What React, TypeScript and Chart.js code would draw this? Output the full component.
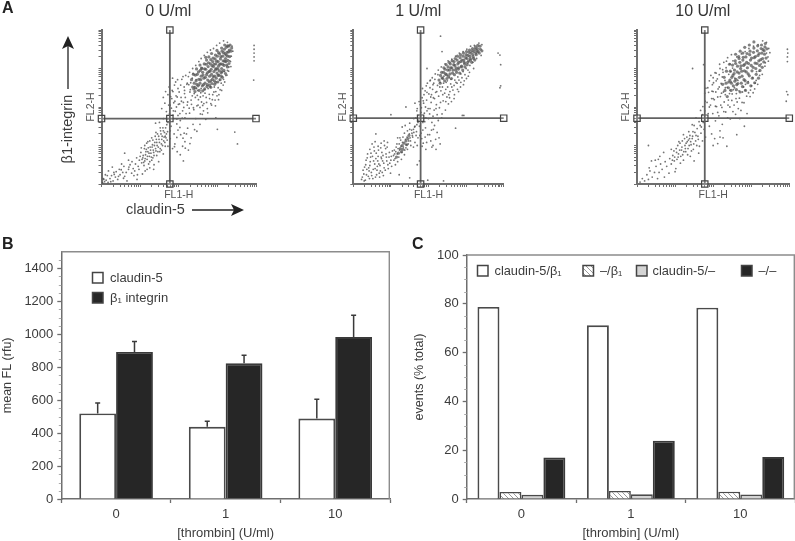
import React, { useEffect, useRef } from "react";
import { Chart, registerables } from "chart.js";

Chart.register(...registerables);

// ---------- Panel A data: flow-cytometry events in log-channel units (100 = one decade)
const panelTitles = ["0 U/ml", "1 U/ml", "10 U/ml"];
const gate0 = [177, 170];
const gate1 = [179, 171];
const gate10 = [178, 171];
const logTickOffsets = [0, 30, 48, 60, 70, 78, 85, 90, 95];

const core0 = [[252,272],[258,280],[255,262],[262,290],[265,275],[268,262],[270,298],[272,284],[275,270],[276,305],[278,292],[280,280],[282,312],[284,298],[285,285],[287,272],[288,318],[290,305],[291,292],[293,280],[294,325],[296,312],[297,300],[299,288],[300,332],[302,318],[303,306],[305,294],[306,338],[308,325],[309,312],[311,300],[312,345],[314,332],[315,320],[317,308],[318,350],[320,338],[321,326],[323,355],[325,342],[327,332],[329,358],[331,348],[260,300],[266,312],[272,322],[278,330],[245,268],[248,285],[256,295],[264,258],[274,258],[283,268],[292,268],[302,282],[312,292],[322,318],[240,262],[236,252],[243,250],[250,255],
[239,247],[243,283],[247,259],[251,291],[253,243],[257,271],[259,301],[261,255],[263,283],[267,247],[267,299],[269,277],[271,311],[273,253],[274,289],[277,315],[279,265],[281,293],[283,251],[283,323],[286,307],[286,261],[289,279],[289,327],[291,311],[293,259],[295,297],[295,335],[297,275],[298,319],[301,265],[301,299],[303,341],[304,283],[306,311],[307,271],[309,331],[310,289],[311,353],[313,277],[314,311],[316,341],[317,295],[319,361],[319,319],[321,287],[323,335],[324,309],[326,359],[327,321],[329,343],[330,313],[332,331],[333,361],[335,345],[337,353],[299,347],[285,339],[270,329],[255,309],[246,299],[238,285],[233,271],[242,240],[262,242],[280,256],[296,264],[310,280],[326,304]];
const cloud0 = [[3,3],[8,6],[5,14],[12,10],[17,4],[22,14],[10,24],[26,22],[30,8],[36,18],[42,12],[32,30],[18,34],[38,32],[48,24],[46,38],[28,44],[55,30],[60,20],[58,46],[52,52],[70,38],[66,8],[74,50],[78,28],[84,22],[82,40],[92,12],[88,52],[95,46],[98,62],[100,72],[104,55],[102,82],[107,68],[110,48],[112,60],[114,76],[116,90],[118,64],[120,84],[122,52],[124,72],[126,96],[128,80],[130,62],[132,102],[134,88],[136,74],[138,108],[140,92],[142,116],[144,100],[146,84],[148,124],[150,108],[152,92],[154,130],[156,116],[158,100],[160,138],[162,122],[164,108],[166,146],[168,130],[170,114],[125,42],[136,50],[148,58],[120,110],[130,120],[112,100],[141,134],[152,146],[135,38],[160,78],[172,98],[178,118],[184,92],[190,104],[196,84],[204,76],[210,98],[216,110],[225,88],[232,120],[205,128],[188,130],[198,140],[214,132],[178,138],[150,160],[140,158],[160,170],[172,160],[180,150],[176,182],[168,188],[156,196],[164,210],[178,205],[186,190],[182,222],[172,232],[166,240],[160,225],[175,252],[185,240],[190,215],[194,200],[198,178],[204,165],[210,190],[216,172],[222,205],[228,184],[232,218],[238,198],[244,170],[250,205],[256,226],[248,230],[240,235],[230,245],[222,262],[215,235],[206,225],[198,248],[192,265],[184,275],[208,272],[218,282],[228,290],[236,300],[244,308],[252,318],[258,326],[266,334],[274,342],[282,348],[290,352],[298,360],[306,366],[316,372],[326,368],[338,358],[340,345],[336,332],[334,318],[330,304],[326,295],[322,282],[316,272],[310,262],[302,250],[296,240],[288,232],[280,222],[272,212],[262,204],[256,182],[264,190],[274,196],[285,205],[294,218],[304,232],[268,236],[276,248],[258,248],[246,248],[235,275],[226,258],[214,252],[202,208],[212,212],[196,226],[282,252],[292,252],[306,270],[318,292],[332,320],[296,172],[345,135],[300,142],[352,104],[220,130],[118,38],[70,62],[212,60],[395,360],[395,350],[395,340],[395,330],[395,320],[394,270],[270,168],[60,80],[195,156],
[108,74],[111,92],[113,66],[115,84],[117,106],[119,72],[121,94],[123,80],[125,112],[127,88],[129,70],[131,96],[133,114],[135,82],[137,100],[139,124],[141,86],[143,108],[145,130],[147,96],[149,116],[151,84],[153,138],[155,104],[157,124],[159,146],[161,112],[163,134],[165,98],[167,120],[169,154],[171,136],[105,64],[103,94],[109,56],[125,58],[133,68],[143,74],[155,88],[165,124],
[171,169],[174,205],[177,163],[179,227],[181,197],[183,243],[185,179],[187,211],[189,257],[191,189],[193,229],[195,169],[197,271],[199,207],[201,239],[203,183],[205,257],[207,215],[209,171],[211,279],[213,199],[215,243],[217,225],[219,183],[221,259],[223,213],[225,279],[227,197],[229,239],[231,263],[233,207],[235,229],[237,287],[239,193],[241,253],[243,225],[245,271],[247,203],[249,243],[251,219],[253,257],[255,199],[257,237],[259,213],[261,181],[263,229],[265,209],[267,245],[271,225],[275,185],[279,233],[283,209],[287,219],[291,239],[295,203],[299,229],[303,219],[307,245],[311,243],[315,257],[319,265],[325,283],[329,293],[335,305],[223,145],[237,155],[247,137],[255,155],[229,105],[241,141],[203,147],[195,121],[189,97],[211,119],[217,93],
[6,12],[15,22],[24,6],[33,25],[44,20],[51,37],[57,15],[64,30],[71,44],[79,58],[86,34],[91,68],[97,38],[93,24],[106,26],[113,34]];
const core1 = [[240,290],[244,298],[248,284],[252,304],[256,296],[258,312],[262,302],[264,288],[268,318],[270,308],[272,296],[276,322],[278,312],[280,302],[284,328],[286,318],[288,306],[292,332],[294,322],[296,312],[300,336],[302,326],[304,316],[308,342],[310,332],[312,322],[316,346],[318,336],[320,326],[324,350],[326,340],[330,352],[332,344],[338,350],[125,92],[130,100],[135,106],[128,84],[140,112],[145,118],[120,80],[115,70],[132,90],[142,102],[148,126],[236,276],[232,282],[228,270],
[231,262],[235,290],[238,274],[241,302],[243,268],[245,286],[247,310],[249,274],[251,296],[253,280],[255,316],[257,286],[259,302],[261,274],[263,320],[265,296],[267,310],[269,284],[271,326],[273,302],[275,290],[277,332],[279,298],[281,316],[283,288],[285,336],[287,304],[289,322],[291,296],[293,340],[295,316],[297,304],[299,328],[301,344],[303,310],[305,334],[307,320],[309,348],[311,326],[313,340],[315,316],[317,352],[319,330],[321,344],[323,322],[325,356],[327,336],[329,346],[331,360],[335,340],[337,358],[342,346]];
const cloud1 = [[22,12],[28,26],[32,10],[36,38],[40,20],[44,48],[48,30],[52,14],[54,60],[58,40],[62,24],[66,72],[68,52],[72,34],[76,82],[78,60],[82,42],[86,92],[88,70],[92,50],[30,44],[34,62],[38,78],[44,90],[50,104],[58,110],[66,98],[74,106],[82,112],[90,96],[96,82],[100,62],[46,70],[56,86],[64,46],[70,18],[80,22],[42,34],[60,66],[74,70],[102,46],[108,62],[112,50],[118,58],[104,86],[110,78],[114,96],[122,104],[126,114],[118,120],[132,122],[136,132],[140,94],[146,104],[152,112],[156,132],[150,142],[144,138],[160,142],[158,122],[164,150],[168,136],[172,120],[164,108],[160,96],[172,160],[176,150],[150,158],[138,152],[130,148],[180,132],[182,118],[186,106],[170,100],[192,146],[198,128],[206,112],[212,100],[220,90],[228,120],[208,140],[216,152],[190,162],[200,170],[172,178],[180,186],[170,196],[178,206],[164,210],[186,216],[192,200],[196,190],[204,196],[212,176],[220,196],[226,165],[236,182],[232,212],[216,222],[206,226],[196,238],[188,232],[184,248],[194,255],[204,250],[212,258],[222,240],[230,252],[238,232],[246,214],[254,232],[262,252],[270,270],[278,278],[286,286],[292,292],[300,300],[310,308],[318,316],[328,326],[340,334],[342,362],[334,366],[322,360],[312,358],[302,350],[292,344],[282,340],[272,332],[262,324],[252,320],[244,312],[234,304],[226,296],[218,286],[210,276],[204,268],[214,262],[224,256],[240,262],[250,268],[260,272],[268,256],[276,262],[286,264],[246,246],[256,224],[268,222],[280,240],[295,268],[306,280],[320,300],[294,178],[290,178],[272,145],[385,340],[390,335],[392,310],[392,255],[390,250],[232,384],[208,232],[140,200],[60,130],[100,180],[122,24],[198,10],[240,8],[150,16],[170,50],[176,60],[236,344],[196,300],
[107,74],[111,66],[113,84],[117,78],[119,92],[121,70],[123,88],[127,98],[129,82],[131,108],[133,96],[137,88],[139,116],[141,102],[143,122],[147,112],[149,130],[151,120],[153,100],[155,140],[157,126],[161,134],[163,148],[167,126],[169,154],[116,104],[124,120],[109,88],[101,72],[136,76],[128,64],[144,90],
[24,18],[26,36],[29,8],[33,50],[35,24],[37,68],[41,42],[43,14],[45,58],[47,80],[49,22],[51,72],[53,38],[55,96],[57,52],[59,18],[61,80],[63,36],[65,60],[67,88],[69,28],[71,48],[73,94],[75,66],[77,30],[79,74],[81,54],[83,100],[85,36],[87,78],[89,60],[91,108],[93,40],[95,70],[97,54],[99,28],
[166,172],[169,190],[173,166],[175,214],[179,176],[181,198],[183,224],[185,160],[187,210],[189,184],[191,242],[193,172],[195,218],[197,262],[199,196],[201,234],[203,182],[205,270],[207,212],[209,160],[211,246],[213,224],[215,192],[217,272],[219,238],[221,206],[223,180],[225,284],[227,228],[229,198],[231,264],[233,242],[235,172],[237,252],[239,216],[241,280],[243,236],[245,192],[247,264],[249,226],[251,252],[253,208],[255,276],[257,240],[259,260],[261,214],[265,244],[269,232],[273,264],[277,246],[281,270],[285,252],[289,276],[293,258],[297,284],[301,274],[305,296],[309,290],
[185,140],[191,122],[195,108],[203,128],[209,96],[213,142],[219,116],[223,134],[231,104],[183,98],[193,90],[177,126],[161,170]];
const core10 = [[252,282],[256,296],[260,272],[264,306],[268,288],[270,316],[272,300],[276,280],[278,322],[280,308],[282,294],[286,330],[288,316],[290,302],[292,286],[296,336],[298,322],[300,308],[302,294],[306,342],[308,328],[310,314],[312,300],[316,346],[318,334],[320,320],[322,308],[326,352],[328,340],[330,326],[334,346],[336,356],[262,258],[274,262],[248,262],[244,270],[284,268],[240,250],[234,262],[258,320],[268,326],[278,340],
[241,265],[245,293],[247,243],[249,277],[251,309],[253,255],[255,287],[257,267],[259,313],[261,245],[263,291],[265,261],[267,331],[269,277],[271,239],[273,307],[275,293],[277,253],[279,329],[281,271],[283,311],[285,243],[287,291],[289,339],[291,263],[293,313],[295,281],[297,345],[299,255],[301,327],[303,275],[305,303],[307,353],[309,263],[311,331],[313,285],[315,313],[317,359],[319,275],[321,339],[323,295],[325,323],[327,361],[329,303],[331,349],[333,317],[335,337],[337,365],[339,327],[341,351],[259,337],[271,345],[283,355],[295,361],[307,369],[243,311],[235,293],[229,277],[225,259],[231,243],[237,227]];
const cloud10 = [[8,5],[14,14],[20,8],[26,24],[30,12],[34,34],[40,18],[46,30],[50,46],[54,14],[58,30],[62,52],[66,38],[72,18],[74,58],[78,46],[84,28],[86,66],[90,52],[94,74],[98,60],[102,40],[104,82],[108,70],[112,88],[114,54],[118,96],[120,76],[122,62],[126,100],[128,84],[132,110],[134,92],[138,118],[140,72],[142,102],[146,124],[148,90],[152,134],[154,112],[158,144],[160,124],[164,98],[166,152],[168,132],[172,112],[174,160],[176,142],[180,122],[150,152],[136,136],[122,128],[110,110],[172,180],[178,190],[184,172],[190,150],[196,130],[204,118],[212,105],[218,138],[226,120],[236,98],[224,155],[206,164],[190,200],[184,212],[196,222],[188,238],[200,240],[206,202],[212,186],[220,205],[228,188],[238,172],[244,200],[252,188],[198,258],[208,268],[216,252],[224,278],[232,232],[240,218],[250,234],[260,222],[266,196],[276,212],[288,228],[298,244],[310,262],[322,282],[336,306],[344,330],[346,352],[340,368],[330,372],[318,362],[306,358],[294,352],[284,344],[274,338],[262,330],[252,320],[244,312],[234,302],[226,290],[216,284],[208,288],[200,276],[194,282],[218,300],[228,316],[238,328],[248,336],[232,250],[244,244],[256,250],[268,242],[280,252],[292,266],[304,276],[314,292],[326,312],[284,244],[246,292],[222,236],[212,226],[200,222],[340,340],[190,268],[186,250],[178,236],[175,310],[146,300],[100,32],[32,42],[38,60],[48,62],[60,72],[70,82],[56,64],[90,90],[395,350],[396,340],[395,330],[395,318],[393,240],[396,232],[392,215],[270,170],[282,150],[30,100],[150,60],[162,80],[200,100],[218,122],[262,128],
[193,205],[197,241],[199,183],[201,263],[203,219],[205,289],[207,239],[209,201],[211,273],[213,247],[215,177],[217,311],[219,227],[221,261],[223,199],[225,297],[227,239],[229,213],[231,269],[233,187],[235,319],[237,251],[239,205],[241,285],[243,235],[245,169],[247,265],[249,217],[251,301],[253,245],[255,205],[257,275],[259,181],[261,235],[263,213],[265,269],[269,223],[273,191],[277,239],[281,211],[285,259],[289,183],[293,237],[297,227],[301,255],[305,237],[309,247],[313,269],[317,259],[321,293],[329,285],[337,315],[345,319],[349,341],[179,215],[173,201],[167,191],[181,249],[187,183],
[93,62],[97,86],[99,70],[103,92],[105,64],[107,100],[109,78],[113,106],[115,72],[117,88],[119,112],[123,84],[125,118],[127,92],[129,106],[131,122],[133,76],[135,114],[137,100],[139,126],[141,110],[143,86],[145,118],[147,136],[149,104],[155,126],[161,116],[157,100],[169,148],[163,162],[145,154],[155,172]];

// ---------- Panel B data
const thrombinDoses = ["0", "1", "10"];
const claudin5Mean = [519, 438, 488];
const claudin5Top = [583, 472, 605];
const beta1Mean = [892, 823, 982];
const beta1Top = [956, 872, 1114];
const yTicksB = [0, 200, 400, 600, 800, 1000, 1200, 1400];

// ---------- Panel C data
const dpPct = [78.7, 71.2, 78.4];
const betaOnlyPct = [2.9, 3.3, 3.0];
const claudinOnlyPct = [1.7, 1.9, 1.8];
const negPct = [17.0, 23.9, 17.2];
const yTicksC = [0, 20, 40, 60, 80, 100];

const FONT = "'Liberation Sans', Arial, sans-serif";
const INK = "#3c3c3c";
const AXIS = "#6e6e6e";
const DARK = "#262626";

function hatch(): CanvasPattern | string {
  const c = document.createElement("canvas");
  c.width = 5;
  c.height = 5;
  const g = c.getContext("2d");
  if (!g) return "#ddd";
  g.fillStyle = "#fff";
  g.fillRect(0, 0, 5, 5);
  g.strokeStyle = "#9a9a9a";
  g.lineWidth = 1;
  g.beginPath();
  g.moveTo(0, 0);
  g.lineTo(5, 5);
  g.moveTo(-1, 4);
  g.lineTo(1, 6);
  g.moveTo(4, -1);
  g.lineTo(6, 1);
  g.stroke();
  return g.createPattern(c, "repeat") || "#ddd";
}

const pts = (a: number[][]) => a.map(([x, y]) => ({ x, y }));

function drawTextItems(ctx: CanvasRenderingContext2D, items: any[]) {
  ctx.save();
  ctx.textBaseline = "middle";
  items.forEach((t) => {
    ctx.save();
    ctx.translate(t.x, t.y);
    if (t.rot) ctx.rotate(t.rot);
    ctx.font = t.font;
    ctx.fillStyle = t.color || INK;
    ctx.textAlign = t.align || "left";
    ctx.fillText(t.text, 0, 0);
    ctx.restore();
  });
  ctx.restore();
}

function arrow(ctx: CanvasRenderingContext2D, x1: number, y1: number, x2: number, y2: number) {
  const a = Math.atan2(y2 - y1, x2 - x1);
  ctx.save();
  ctx.strokeStyle = "#222";
  ctx.fillStyle = "#222";
  ctx.lineWidth = 1.3;
  ctx.beginPath();
  ctx.moveTo(x1, y1);
  ctx.lineTo(x2 - 8 * Math.cos(a), y2 - 8 * Math.sin(a));
  ctx.stroke();
  ctx.translate(x2, y2);
  ctx.rotate(a);
  ctx.beginPath();
  ctx.moveTo(0, 0);
  ctx.lineTo(-13, -6);
  ctx.lineTo(-10, 0);
  ctx.lineTo(-13, 6);
  ctx.closePath();
  ctx.fill();
  ctx.restore();
}

function scatterConfig(o: any): any {
  const [gx, gy] = o.gate;
  const logTicks: { value: number }[] = [];
  for (let d = 0; d < 4; d++) logTickOffsets.forEach((t) => logTicks.push({ value: d * 100 + t }));
  logTicks.push({ value: 400 });
  const setTicks = (s: any) => {
    s.ticks = logTicks.map((t) => ({ ...t }));
  };
  const scale = (extra: any, title: string, fit: any) => ({
    type: "linear",
    min: 0,
    max: 400,
    afterBuildTicks: setTicks,
    afterFit: fit,
    ticks: { display: false, autoSkip: false },
    grid: { drawOnChartArea: false, drawTicks: true, tickLength: 3, tickColor: AXIS, tickWidth: 1 },
    border: { color: AXIS, width: 2 },
    title: { display: true, text: title, color: "#555", padding: 4, font: { family: FONT, size: 10.5 } },
    ...extra,
  });
  const handleCommon = {
    pointStyle: "rect",
    pointRadius: 4.5,
    pointBackgroundColor: "rgba(255,255,255,0.2)",
    pointBorderColor: "#444",
    pointBorderWidth: 1.2,
    showLine: true,
    borderColor: "#626262",
    borderWidth: 1.8,
    clip: false,
    order: 0,
  };
  return {
    type: "scatter",
    data: {
      datasets: [
        { label: "events", data: pts(o.cloud), pointRadius: 0.9, pointBorderWidth: 0, pointBackgroundColor: "rgba(70,70,70,0.75)", order: 3 },
        { label: "dense events", data: pts(o.core), pointRadius: 1.6, pointBorderWidth: 0, pointBackgroundColor: "rgba(80,80,80,0.72)", order: 2 },
        { label: "FL1 gate", data: pts([[gx, 400], [gx, 0]]), ...handleCommon },
        { label: "FL2 gate", data: pts([[0, gy], [gx, gy], [400, gy]]), ...handleCommon },
      ],
    },
    options: {
      responsive: false,
      animation: false,
      events: [],
      layout: { padding: { left: o.padLeft, right: o.padRight, top: 0, bottom: 20 } },
      plugins: {
        legend: { display: false },
        tooltip: { enabled: false },
        title: {
          display: true,
          text: o.title,
          color: "#333",
          font: { family: FONT, size: 16, weight: "normal" },
          padding: { top: 2, bottom: 8.8 },
        },
      },
      scales: {
        x: scale({ position: "bottom" }, "FL1-H", (s: any) => { s.height = 21; }),
        y: scale({ position: "left" }, "FL2-H", (s: any) => { s.width = o.axisW; }),
      },
    },
    plugins: o.extra ? [o.extra] : [],
  };
}

function frameAndMinor(minor: number[]) {
  return {
    id: "frame",
    beforeDatasetsDraw(chart: any) {
      const { ctx, chartArea: a, scales } = chart;
      ctx.save();
      ctx.strokeStyle = "#8c8c8c";
      ctx.lineWidth = 1.4;
      ctx.beginPath();
      ctx.moveTo(a.left, a.top);
      ctx.lineTo(a.right - 0.7, a.top);
      ctx.lineTo(a.right - 0.7, a.bottom);
      ctx.stroke();
      ctx.strokeStyle = "#aaaaaa";
      ctx.lineWidth = 1;
      ctx.beginPath();
      minor.forEach((v) => {
        const y = Math.round(scales.y.getPixelForValue(v)) + 0.5;
        ctx.moveTo(a.left - 2.5, y);
        ctx.lineTo(a.left, y);
      });
      ctx.stroke();
      ctx.restore();
    },
  };
}

function barAxisOptions(o: any): any {
  return {
    responsive: false,
    animation: false,
    events: [],
    layout: { padding: { left: o.padLeft, right: o.padRight, top: o.top, bottom: 0 } },
    plugins: { legend: { display: false }, tooltip: { enabled: false } },
    scales: {
      x: {
        type: "category",
        afterFit: (s: any) => { s.height = 42; },
        grid: { offset: true, drawOnChartArea: false, drawTicks: true, tickLength: 4, tickColor: AXIS, tickWidth: 1.3 },
        border: { color: AXIS, width: 1.5 },
        ticks: { color: INK, padding: 4, maxRotation: 0, font: { family: FONT, size: 13 } },
        title: { display: true, text: "[thrombin] (U/ml)", color: INK, padding: { top: 4, bottom: 0 }, font: { family: FONT, size: 13 } },
      },
      y: {
        type: "linear",
        min: 0,
        max: o.max,
        afterFit: (s: any) => { s.width = o.axisW; },
        afterBuildTicks: (s: any) => { s.ticks = o.ticks.map((value: number) => ({ value })); },
        grid: { drawOnChartArea: false, drawTicks: true, tickLength: 4, tickColor: AXIS, tickWidth: 1.3 },
        border: { color: AXIS, width: 1.5 },
        ticks: { color: INK, padding: 4, autoSkip: false, font: { family: FONT, size: 13 }, callback: (v: any) => String(v) },
        title: { display: true, text: o.yTitle, color: INK, padding: 0, font: { family: FONT, size: 12.5 } },
      },
    },
  };
}

function legendPlugin(entries: any[]) {
  return {
    id: "boxLegend",
    afterDraw(chart: any) {
      const ctx = chart.ctx;
      entries.forEach((e) => {
        ctx.save();
        ctx.fillStyle = e.fill;
        ctx.strokeStyle = "#444";
        ctx.lineWidth = 1.5;
        ctx.fillRect(e.x, e.y, 10.5, 10.5);
        ctx.strokeRect(e.x, e.y, 10.5, 10.5);
        ctx.restore();
      });
      drawTextItems(ctx, entries.map((e) => ({ text: e.label, x: e.x + e.dx, y: e.y + 5.5, font: `${e.size}px ${FONT}` })));
    },
  };
}

function Panel({ left, top, width, height, build }: any) {
  const ref = useRef<HTMLCanvasElement | null>(null);
  useEffect(() => {
    if (!ref.current) return;
    const chart = new Chart(ref.current, build());
    return () => chart.destroy();
  }, []);
  return (
    <canvas
      ref={ref}
      width={width}
      height={height}
      style={{ position: "absolute", left, top, width, height, filter: "blur(0.35px)" }}
    />
  );
}

const annotationA = {
  id: "annotationA",
  afterDraw(chart: any) {
    const ctx = chart.ctx;
    drawTextItems(ctx, [
      { text: "A", x: 2, y: 9, font: `bold 16px ${FONT}`, color: "#222" },
      { text: "\u03b21-integrin", x: 68, y: 129, rot: -Math.PI / 2, align: "center", font: `14.5px ${FONT}` },
      { text: "claudin-5", x: 126, y: 210, font: `14.5px ${FONT}` },
    ]);
    arrow(ctx, 68, 89, 68, 36);
    arrow(ctx, 192, 210, 244, 210);
  },
};

const labelB = { id: "labelB", afterDraw(c: any) { drawTextItems(c.ctx, [{ text: "B", x: 2, y: 14.5, font: `bold 16px ${FONT}`, color: "#222" }]); } };
const labelC = { id: "labelC", afterDraw(c: any) { drawTextItems(c.ctx, [{ text: "C", x: 12, y: 14.5, font: `bold 16px ${FONT}`, color: "#222" }]); } };

function errorBars(tops: number[][]) {
  return {
    id: "errorBars",
    afterDatasetsDraw(chart: any) {
      const { ctx, scales } = chart;
      ctx.save();
      ctx.strokeStyle = "#3a3a3a";
      ctx.lineWidth = 1.5;
      tops.forEach((arr, ds) => {
        chart.getDatasetMeta(ds).data.forEach((bar: any, i: number) => {
          const x = bar.x;
          const yTop = scales.y.getPixelForValue(arr[i]);
          ctx.beginPath();
          ctx.moveTo(x, bar.y);
          ctx.lineTo(x, yTop);
          ctx.moveTo(x - 2.5, yTop);
          ctx.lineTo(x + 2.5, yTop);
          ctx.stroke();
        });
      });
      ctx.restore();
    },
  };
}

export default function App() {
  useEffect(() => {
    document.body.style.margin = "0";
  }, []);
  const minorB: number[] = [];
  for (let v = 50; v < 1500; v += 50) if (v % 200 !== 0) minorB.push(v);
  const minorC: number[] = [];
  for (let v = 5; v < 100; v += 5) if (v % 20 !== 0) minorC.push(v);
  return (
    <div style={{ position: "fixed", left: 0, top: 0, width: 795, height: 541, background: "#fff", overflow: "hidden" }}>
      <Panel left={0} top={0} width={340} height={225} build={() => scatterConfig({ title: panelTitles[0], gate: gate0, cloud: cloud0, core: core0, padLeft: 80.6, axisW: 20.9, padRight: 84, extra: annotationA })} />
      <Panel left={300} top={0} width={241} height={225} build={() => scatterConfig({ title: panelTitles[1], gate: gate1, cloud: cloud1, core: core1, padLeft: 32.9, axisW: 20.4, padRight: 37.3 })} />
      <Panel left={616} top={0} width={179} height={225} build={() => scatterConfig({ title: panelTitles[2], gate: gate10, cloud: cloud10, core: core10, padLeft: 0.3, axisW: 20.7, padRight: 5.7 })} />
      <Panel left={0} top={230} width={400} height={311} build={() => ({
        type: "bar",
        data: {
          labels: thrombinDoses,
          datasets: [
            { label: "claudin-5", data: claudin5Mean, backgroundColor: "#fff", borderColor: "#4a4a4a", borderWidth: 1.9, barPercentage: 1, categoryPercentage: 0.672 },
            { label: "\u03b2\u2081 integrin", data: beta1Mean, backgroundColor: DARK, borderColor: "#3a3a3a", borderWidth: 1.9, barPercentage: 1, categoryPercentage: 0.672 },
          ],
        },
        options: barAxisOptions({ padLeft: 0, padRight: 10, top: 21.7, max: 1500, axisW: 61.3, ticks: yTicksB, yTitle: "mean FL (rfu)" }),
        plugins: [
          frameAndMinor(minorB),
          errorBars([claudin5Top, beta1Top]),
          labelB,
          legendPlugin([
            { label: "claudin-5", fill: "#fff", x: 92.5, y: 42.5, dx: 17.5, size: 13 },
            { label: "\u03b2\u2081 integrin", fill: DARK, x: 92.5, y: 62.5, dx: 17.5, size: 13 },
          ]),
        ],
      })} />
      <Panel left={400} top={230} width={395} height={311} build={() => ({
        type: "bar",
        data: {
          labels: thrombinDoses,
          datasets: [
            { label: "claudin-5/\u03b2\u2081", data: dpPct, backgroundColor: "#fff", borderColor: "#4a4a4a", borderWidth: 1.9, barPercentage: 1, categoryPercentage: 0.803 },
            { label: "\u2013/\u03b2\u2081", data: betaOnlyPct, backgroundColor: hatch(), borderColor: "#4a4a4a", borderWidth: 1.6, barPercentage: 1, categoryPercentage: 0.803 },
            { label: "claudin-5/\u2013", data: claudinOnlyPct, backgroundColor: "#d4d4d4", borderColor: "#4a4a4a", borderWidth: 1.6, barPercentage: 1, categoryPercentage: 0.803 },
            { label: "\u2013/\u2013", data: negPct, backgroundColor: DARK, borderColor: "#3a3a3a", borderWidth: 1.9, barPercentage: 1, categoryPercentage: 0.803 },
          ],
        },
        options: barAxisOptions({ padLeft: 12.5, padRight: 0, top: 25, max: 100, axisW: 54.2, ticks: yTicksC, yTitle: "events (% total)" }),
        plugins: [
          frameAndMinor(minorC),
          labelC,
          legendPlugin([
            { label: "claudin-5/\u03b2\u2081", fill: "#fff", x: 77.5, y: 35.5, dx: 17, size: 12.8 },
            { label: "\u2013/\u03b2\u2081", fill: hatch(), x: 183, y: 35.5, dx: 17, size: 12.8 },
            { label: "claudin-5/\u2013", fill: "#d4d4d4", x: 236.5, y: 35.5, dx: 16, size: 12.8 },
            { label: "\u2013/\u2013", fill: DARK, x: 341.5, y: 35.5, dx: 17, size: 12.8 },
          ]),
        ],
      })} />
    </div>
  );
}
